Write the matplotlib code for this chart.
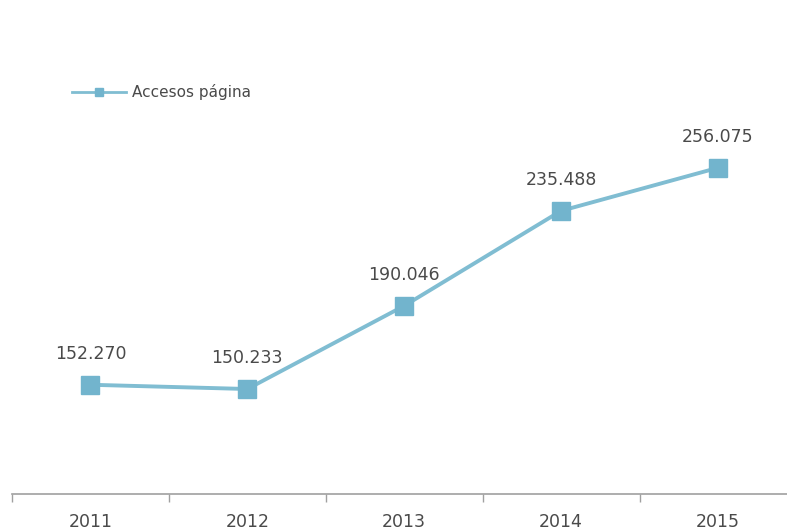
import numpy as np
import matplotlib.pyplot as plt
import matplotlib as mpl

mpl.rcParams["figure.facecolor"] = "white"
mpl.rcParams["font.family"] = ["DejaVu Sans"]

# data
years = ["2011", "2012", "2013", "2014", "2015"]
accesos = [152270, 150233, 190046, 235488, 256075]
labels = ["152.270", "150.233", "190.046", "235.488", "256.075"]

line_col = "#80bdd2"
mark_col = "#72b4cd"
text_col = "#4a4a4a"

fig = plt.figure(figsize=(7.87, 5.32), dpi=100)
ax = fig.add_axes([12 / 787, 38 / 532, 1 - 12 / 787, 418 / 532])

x = np.arange(len(years))
ax.plot(x, accesos, color=line_col, lw=2.8, marker="s", ms=13,
        mfc=mark_col, mec=mark_col, label="Accesos página")

for xi, yi, lab in zip(x, accesos, labels):
    ax.annotate(lab, (xi, yi), xytext=(0, 22), textcoords="offset points",
                ha="center", va="center", fontsize=12.5, color=text_col)

ax.set_xlim(-0.5, 4.44)
ax.set_ylim(100000, 300000)

ax.set_yticks([])
for s in ["top", "right", "left"]:
    ax.spines[s].set_visible(False)
ax.spines["bottom"].set_color("#a0a0a0")
ax.spines["bottom"].set_linewidth(1.2)

ax.set_xticks(x)
ax.set_xticklabels(years, fontsize=12.5, color=text_col)
ax.tick_params(axis="x", which="major", length=0, pad=14)
ax.set_xticks(np.arange(-0.5, 4.0, 1), minor=True)
ax.tick_params(axis="x", which="minor", length=6, color="#a0a0a0", width=1)

leg = ax.legend(loc="upper left", bbox_to_anchor=(0.06, 1.013), frameon=False,
                fontsize=11, handlelength=3.5, handletextpad=0.4, markerscale=0.4)
leg.get_lines()[0].set_linewidth(2)
for t in leg.get_texts():
    t.set_color(text_col)

fig.savefig("out.png", dpi=100)
